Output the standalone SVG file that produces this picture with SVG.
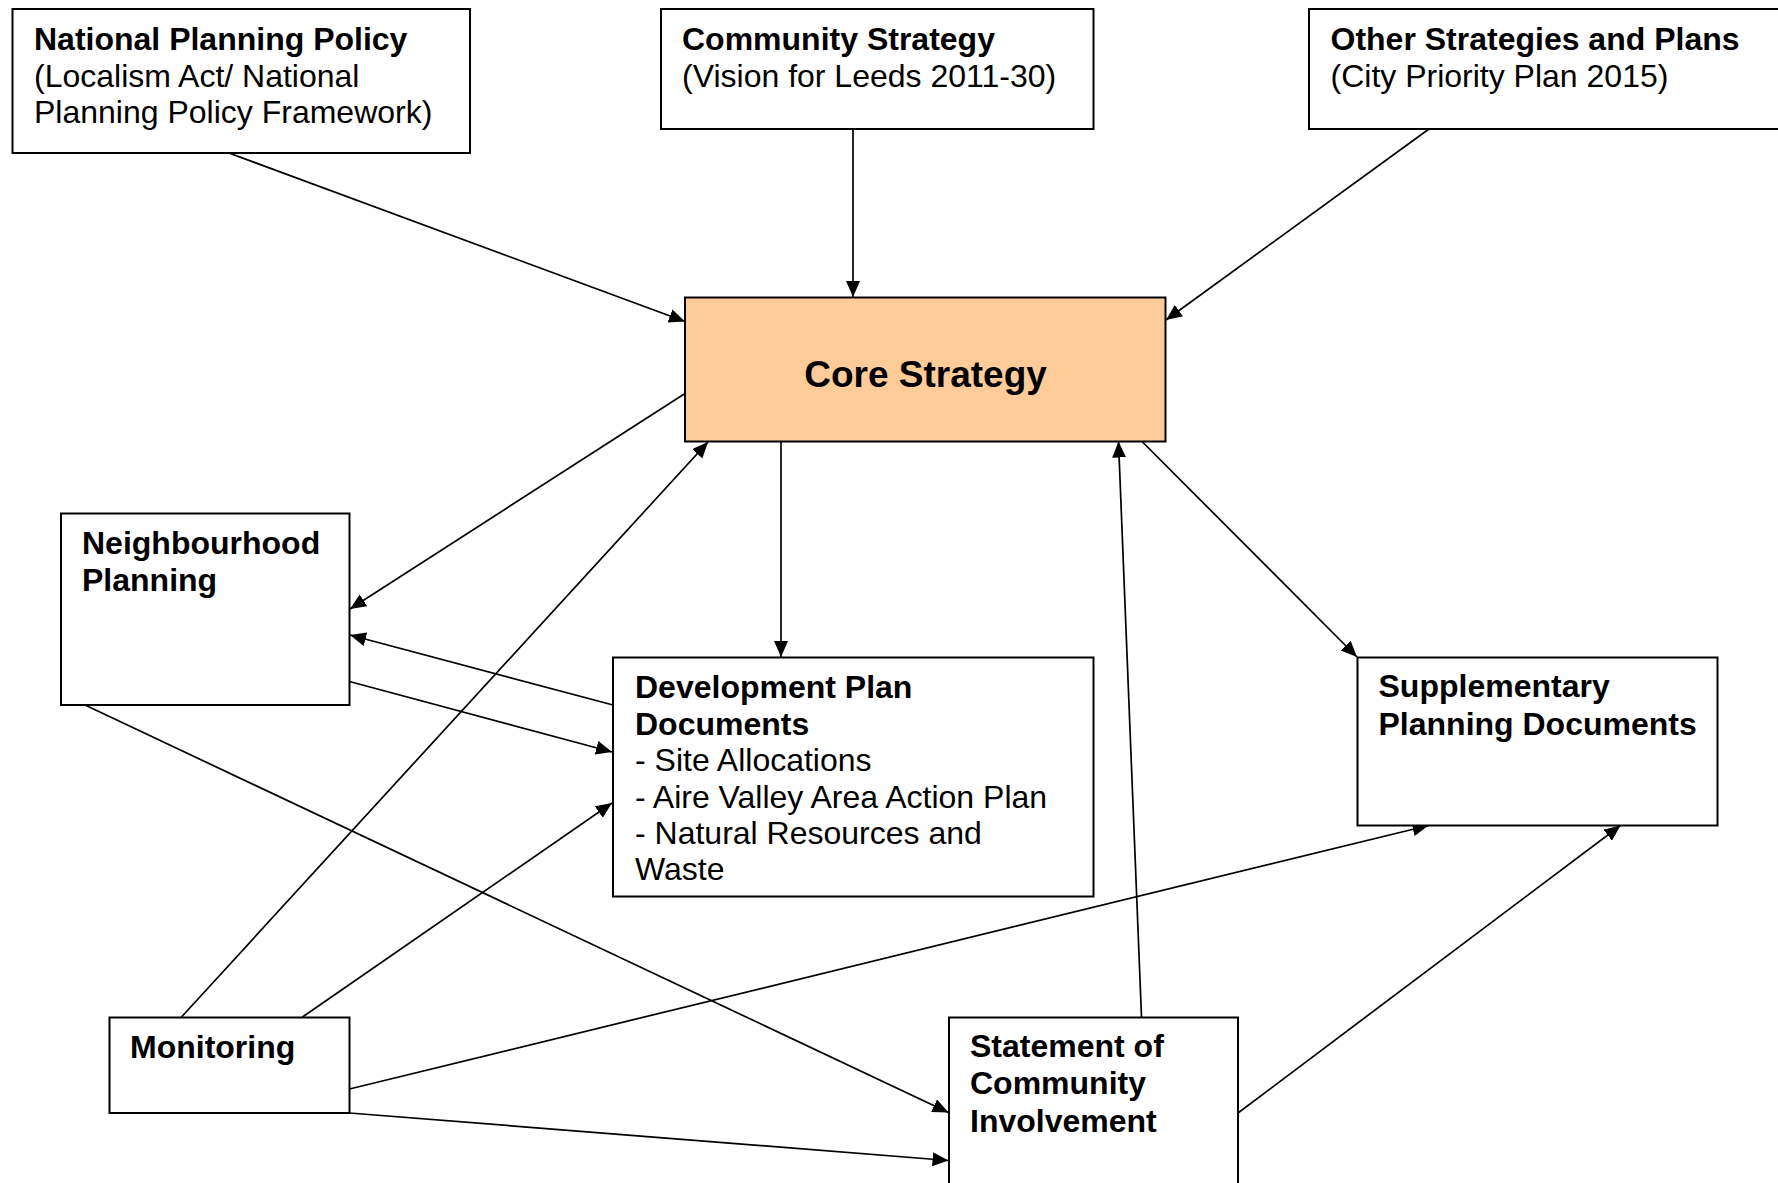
<svg xmlns="http://www.w3.org/2000/svg" width="1778" height="1183" viewBox="0 0 1778 1183">
<style>
.box{fill:#fff;stroke:#000;stroke-width:2}
.core{fill:#FFCC99;stroke:#000;stroke-width:2}
text{font-family:"Liberation Sans",Arial,sans-serif;font-size:32px;fill:#000}
.b{font-weight:bold}
.c{font-size:37px;font-weight:bold}
.con line{stroke:#000;stroke-width:1.7;fill:none}
.arr{marker-end:url(#ah)}
</style>
<defs>
<marker id="ah" markerUnits="userSpaceOnUse" markerWidth="17" markerHeight="15" refX="16" refY="7" orient="auto">
<path d="M0,0 L16,7 L0,14 z" fill="#000"/>
</marker>
</defs>
<rect width="1778" height="1183" fill="#fff"/>
<g id="connectors" class="con">
<line class="arr" x1="229" y1="153" x2="685" y2="321.5"/>
<line class="arr" x1="853" y1="129" x2="853" y2="297"/>
<line class="arr" x1="1429" y1="129" x2="1166" y2="320"/>
<line class="arr" x1="685" y1="393.5" x2="350" y2="609"/>
<line class="arr" x1="781" y1="441.5" x2="781" y2="657"/>
<line class="arr" x1="1142" y1="441.5" x2="1357" y2="657"/>
<line class="arr" x1="1141.5" y1="1017" x2="1118.5" y2="441.5"/>
<line class="arr" x1="181.5" y1="1017" x2="708" y2="442"/>
<line class="arr" x1="613" y1="705" x2="350" y2="635"/>
<line class="arr" x1="349.5" y1="681.5" x2="612" y2="752"/>
<line class="arr" x1="85" y1="705" x2="948.5" y2="1112.5"/>
<line class="arr" x1="302.5" y1="1017" x2="612" y2="803"/>
<line class="arr" x1="349.5" y1="1089" x2="1428.5" y2="825.5"/>
<line class="arr" x1="1238" y1="1113" x2="1620.5" y2="825.5"/>
<line class="arr" x1="349.5" y1="1113" x2="948.5" y2="1160.5"/>
</g>
<g id="national">
<rect class="box" x="12.5" y="9" width="457.5" height="144"/>
<text x="34" y="50" class="b">National Planning Policy</text>
<text x="34" y="86.5">(Localism Act/ National</text>
<text x="34" y="122.5">Planning Policy Framework)</text>
</g>
<g id="community">
<rect class="box" x="661" y="9" width="432.5" height="120"/>
<text x="682" y="50" class="b">Community Strategy</text>
<text x="682" y="86.5">(Vision for Leeds 2011-30)</text>
</g>
<g id="other">
<rect class="box" x="1309" y="9" width="480" height="120"/>
<text x="1330.5" y="50" class="b">Other Strategies and Plans</text>
<text x="1330.5" y="86.5">(City Priority Plan 2015)</text>
</g>
<g id="core">
<rect class="core" x="685" y="297.5" width="480.5" height="144"/>
<text x="925.5" y="386.5" class="c" text-anchor="middle">Core Strategy</text>
</g>
<g id="neighbourhood">
<rect class="box" x="61" y="513.5" width="288.5" height="191.5"/>
<text x="82" y="553.5" class="b">Neighbourhood</text>
<text x="82" y="591" class="b">Planning</text>
</g>
<g id="dpd">
<rect class="box" x="613" y="657.5" width="480.5" height="239"/>
<text x="635" y="698" class="b">Development Plan</text>
<text x="635" y="734.5" class="b">Documents</text>
<text x="635" y="771">- Site Allocations</text>
<text x="635" y="807.5">- Aire Valley Area Action Plan</text>
<text x="635" y="843.5">- Natural Resources and</text>
<text x="635" y="880">Waste</text>
</g>
<g id="spd">
<rect class="box" x="1357.5" y="657.5" width="360" height="168"/>
<text x="1378.5" y="696.5" class="b">Supplementary</text>
<text x="1378.5" y="734.5" class="b">Planning Documents</text>
</g>
<g id="monitoring">
<rect class="box" x="109.5" y="1017.5" width="240" height="95.5"/>
<text x="130" y="1058" class="b">Monitoring</text>
</g>
<g id="sci">
<rect class="box" x="949" y="1017.5" width="289" height="200"/>
<text x="970" y="1057" class="b">Statement of</text>
<text x="970" y="1094" class="b">Community</text>
<text x="970" y="1131.5" class="b">Involvement</text>
</g>
</svg>
